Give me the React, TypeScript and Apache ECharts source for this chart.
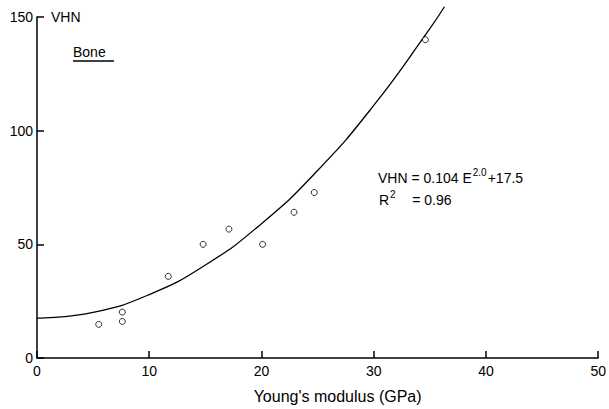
import React, { useEffect, useRef } from "react";
import * as echarts from "echarts";

// Measured points (Young's modulus GPa, VHN)
const pointsE = [5.5, 7.6, 7.6, 11.7, 14.8, 17.1, 20.1, 22.9, 24.7, 34.6];
const pointsVHN = [14.8, 20.2, 16.1, 35.9, 50.0, 56.7, 50.0, 64.1, 72.8, 140];

// Fitted curve
const fitE = [0, 5, 10, 15, 20, 25, 30, 35, 36.3];
const fitVHN = [17.5, 20.1, 27.9, 40.9, 59.1, 82.5, 111.1, 144.9, 154.5];

const xTicks = [0, 10, 20, 30, 40, 50];
const yTicks = [0, 50, 100, 150];

const FONT = "Liberation Sans";

export default function App() {
  const ref = useRef<HTMLDivElement>(null);
  useEffect(() => {
    if (!ref.current) return;
    const chart = echarts.init(ref.current, null, { renderer: "svg" });
    const axisStyle = { color: "#000", width: 1.5 };
    const rich = {
      a: { fontFamily: FONT, fontSize: 14, color: "#000" },
      s: { fontFamily: FONT, fontSize: 10, color: "#000", padding: [0, 1, 11, 1] },
    };
    chart.setOption({
      animation: false,
      backgroundColor: "#fff",
      grid: { left: 37, right: 7, top: 17, bottom: 48, containLabel: false },
      xAxis: {
        type: "value",
        min: xTicks[0],
        max: xTicks[xTicks.length - 1],
        interval: 10,
        name: "Young's modulus (GPa)",
        nameLocation: "middle",
        nameGap: 30,
        nameTextStyle: { color: "#000", fontFamily: FONT, fontSize: 16, padding: [0, 0, 0, 40] },
        axisLine: { lineStyle: axisStyle },
        axisTick: { inside: true, length: 7, lineStyle: axisStyle },
        axisLabel: { color: "#000", fontFamily: FONT, fontSize: 14, margin: 6 },
        splitLine: { show: false },
      },
      yAxis: {
        type: "value",
        min: yTicks[0],
        max: yTicks[yTicks.length - 1],
        interval: 50,
        axisLine: { lineStyle: axisStyle },
        axisTick: { inside: true, length: 7, lineStyle: axisStyle },
        axisLabel: { color: "#000", fontFamily: FONT, fontSize: 14, margin: 4 },
        splitLine: { show: false },
      },
      series: [
        {
          type: "line",
          data: fitE.map((e, i) => [e, fitVHN[i]]),
          smooth: true,
          showSymbol: false,
          clip: false,
          lineStyle: { color: "#000", width: 1.3 },
          z: 2,
        },
        {
          type: "scatter",
          data: pointsE.map((e, i) => [e, pointsVHN[i]]),
          symbol: "circle",
          symbolSize: 6,
          itemStyle: { color: "#fff", borderColor: "#000", borderWidth: 1 },
          z: 3,
        },
      ],
      graphic: [
        { type: "text", left: 51, top: 10, style: { text: "VHN", fill: "#000", font: `14px ${FONT}` } },
        { type: "text", left: 73, top: 45, style: { text: "Bone", fill: "#000", font: `14px ${FONT}` } },
        { type: "line", shape: { x1: 73, y1: 61, x2: 114, y2: 61 }, style: { stroke: "#000", lineWidth: 1.5 } },
        {
          type: "text",
          left: 378,
          top: 167,
          style: { text: "{a|VHN = 0.104 E}{s|2.0}{a|+17.5}", rich },
        },
        {
          type: "text",
          left: 379,
          top: 189,
          style: { text: "{a|R}{s|2}{a|    = 0.96}", rich },
        },
      ],
    });
    return () => chart.dispose();
  }, []);
  return (
    <div
      ref={ref}
      style={{ position: "fixed", left: 0, top: 0, width: 609, height: 409, background: "#fff" }}
    />
  );
}
